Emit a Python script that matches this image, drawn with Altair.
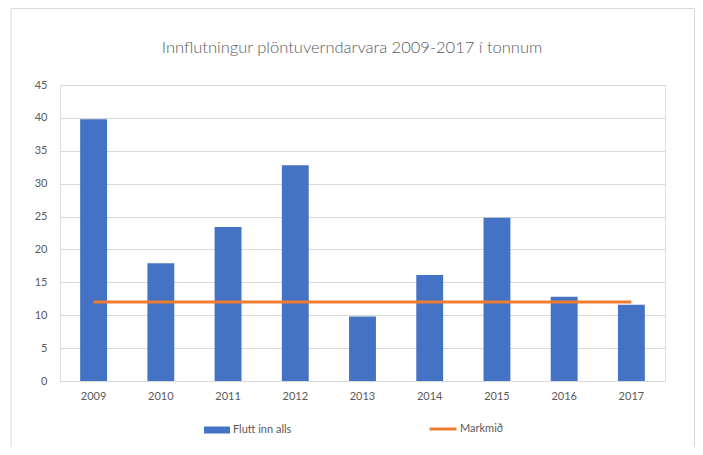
import altair as alt
import pandas as pd

years = ["2009", "2010", "2011", "2012", "2013", "2014", "2015", "2016", "2017"]
imports = [39.8, 17.9, 23.4, 32.8, 9.8, 16.1, 24.8, 12.8, 11.6]
target = [12, 12, 12, 12, 12, 12, 12, 12, 12]
title_text = "Innflutningur plöntuverndarvara 2009-2017 í tonnum"

df = pd.DataFrame({"year": years, "value": imports, "target": target,
                   "s1": "Flutt inn alls", "s2": "Markmið"})

FONT = "Lato"
GREY = "#595959"

yaxis = alt.Axis(values=list(range(0, 50, 5)), labelColor=GREY, labelFont=FONT,
                 labelFontSize=11, labelPadding=13, ticks=False, domain=False,
                 gridColor="#d9d9d9", gridWidth=1)
yscale = alt.Scale(domain=[0, 45], nice=False)

x = alt.X("year:N", title=None, sort=years,
          scale=alt.Scale(paddingInner=0.6, paddingOuter=0.3),
          axis=alt.Axis(labelAngle=0, labelColor=GREY, labelFont=FONT, labelFontSize=11,
                        labelPadding=9, ticks=False, domainColor="#d9d9d9", grid=False))

bars = alt.Chart(df).mark_bar(color="#4472C4").encode(
    x=x,
    y=alt.Y("value:Q", title=None, scale=yscale, axis=yaxis),
    fill=alt.Fill("s1:N", scale=alt.Scale(range=["#4472C4"]),
                  legend=alt.Legend(title=None, orient="none", legendX=144, legendY=332,
                                    symbolType="M-1,-0.27L1,-0.27L1,0.27L-1,0.27Z",
                                    symbolSize=676, symbolStrokeWidth=0, labelOffset=3,
                                    labelColor=GREY, labelFont=FONT, labelFontSize=11)),
)

line = alt.Chart(df).mark_line(strokeWidth=3).encode(
    x=alt.X("year:N", sort=years),
    y=alt.Y("target:Q", title=None, scale=yscale, axis=yaxis),
    stroke=alt.Stroke("s2:N", scale=alt.Scale(range=["#ED7D31"]),
                      legend=alt.Legend(title=None, orient="none", legendX=368, legendY=329,
                                        symbolType="stroke", symbolSize=729,
                                        symbolStrokeWidth=3, labelOffset=2,
                                        labelColor=GREY, labelFont=FONT, labelFontSize=11)),
)

frame = alt.Chart(pd.DataFrame({"a": [0]})).mark_rect(
    fill=None, stroke="#d9d9d9", strokeWidth=1
).encode(x=alt.value(-49), x2=alt.value(634.5), y=alt.value(-76.5), y2=alt.value(420))

title = alt.Chart(pd.DataFrame({"t": [title_text]})).mark_text(
    font=FONT, fontSize=16.5, fontWeight=300, color=GREY, align="center", baseline="middle"
).encode(text="t:N", x=alt.value(292), y=alt.value(-37))

chart = alt.layer(frame, bars, line, title).properties(
    width=605, height=296,
    autosize=alt.AutoSizeParams(type="none"),
    padding={"left": 52, "top": 77, "right": 30, "bottom": 66},
).configure_view(stroke=None).configure(background="white")

chart.save("out.html", embed_options={"renderer": "svg", "actions": False})
